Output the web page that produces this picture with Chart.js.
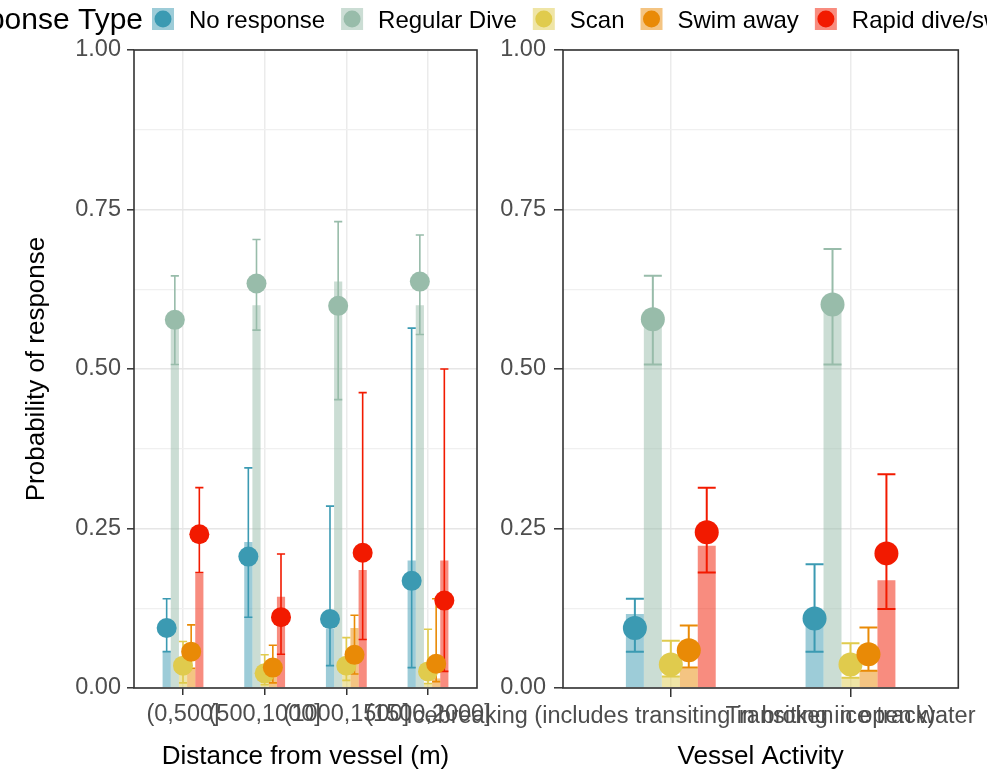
<!DOCTYPE html>
<html>
<head>
<meta charset="utf-8">
<script src="https://cdn.jsdelivr.net/npm/chart.js@4/dist/chart.umd.min.js"></script>
<style>
  html, body { margin: 0; padding: 0; background: #fff; }
  #wrap { position: relative; width: 987px; height: 774px; overflow: hidden; background: #fff; }
  #wrap canvas { position: absolute; left: 0; top: 0; }
</style>
</head>
<body>
<div id="wrap">
  <canvas id="distChart" width="987" height="774"></canvas>
  <canvas id="activityChart" width="987" height="774"></canvas>
</div>
<script>
// ---- Response categories and their colours ----
const legendTitle = 'Response Type';
const responseTypes = ['No response', 'Regular Dive', 'Scan', 'Swim away', 'Rapid dive/swim away'];
const pointColors = ['#3B9AB2', '#98BCAA', '#E0CB4D', '#E98A06', '#F21A00'];
const barAlpha = 0.5;

// ---- Y axis ----
const yMajorTicks = [0, 0.25, 0.5, 0.75, 1];
const yMinorGrid = [0.125, 0.375, 0.625, 0.875];

// ---- Panel 1: distance from vessel ----
const distanceLabels = ['(0,500]', '(500,1000]', '(1000,1500]', '(1500,2000]'];
// observed proportions (bars); one row per response type
const distObserved = [
  [0.057, 0.229, 0.093, 0.200],
  [0.570, 0.600, 0.637, 0.600],
  [0.022, 0.012, 0.020, 0.008],
  [0.030, 0.020, 0.094, 0.015],
  [0.180, 0.143, 0.185, 0.200]
];
// model estimates (points)
const distEstimate = [
  [0.094, 0.206, 0.108, 0.168],
  [0.577, 0.634, 0.599, 0.637],
  [0.035, 0.023, 0.035, 0.026],
  [0.057, 0.032, 0.052, 0.038],
  [0.241, 0.111, 0.212, 0.137]
];
const distLower = [
  [0.057, 0.111, 0.035, 0.032],
  [0.507, 0.561, 0.452, 0.554],
  [0.008, 0.005, 0.012, 0.007],
  [0.031, 0.008, 0.022, 0.010],
  [0.181, 0.053, 0.076, 0.026]
];
const distUpper = [
  [0.140, 0.345, 0.285, 0.564],
  [0.646, 0.703, 0.731, 0.710],
  [0.073, 0.052, 0.079, 0.092],
  [0.099, 0.067, 0.114, 0.140],
  [0.314, 0.210, 0.463, 0.500]
];

// ---- Panel 2: vessel activity ----
const activityLabels = ['Icebreaking (includes transiting in broken ice track)', 'Transiting in open water'];
const actObserved = [
  [0.116, 0.100],
  [0.570, 0.590],
  [0.018, 0.016],
  [0.031, 0.027],
  [0.223, 0.169]
];
const actEstimate = [
  [0.094, 0.109],
  [0.578, 0.601],
  [0.037, 0.037],
  [0.059, 0.053],
  [0.244, 0.211]
];
const actLower = [
  [0.057, 0.057],
  [0.507, 0.507],
  [0.018, 0.016],
  [0.032, 0.027],
  [0.181, 0.124]
];
const actUpper = [
  [0.140, 0.194],
  [0.646, 0.688],
  [0.074, 0.070],
  [0.098, 0.095],
  [0.314, 0.335]
];

// ---- helpers ----
function withAlpha(hex, a) {
  const n = parseInt(hex.slice(1), 16);
  return `rgba(${(n >> 16) & 255},${(n >> 8) & 255},${n & 255},${a})`;
}
const FONT = '"Liberation Sans", Arial, sans-serif';
const isMajor = v => yMajorTicks.some(t => Math.abs(t - v) < 1e-9);

// error bars + estimate points, placed on each bar's dodged position
const markLayer = {
  id: 'markLayer',
  afterDatasetsDraw(chart, args, opts) {
    const { ctx } = chart;
    const y = chart.scales.y;
    ctx.save();
    ctx.lineWidth = opts.lineWidth;
    opts.estimate.forEach((row, i) => {
      const meta = chart.getDatasetMeta(i);
      ctx.strokeStyle = pointColors[i];
      row.forEach((v, j) => {
        const bar = meta.data[j];
        const half = bar.width / 2;
        const yl = y.getPixelForValue(opts.lower[i][j]);
        const yu = y.getPixelForValue(opts.upper[i][j]);
        ctx.beginPath();
        ctx.moveTo(bar.x, yl); ctx.lineTo(bar.x, yu);
        ctx.moveTo(bar.x - half, yl); ctx.lineTo(bar.x + half, yl);
        ctx.moveTo(bar.x - half, yu); ctx.lineTo(bar.x + half, yu);
        ctx.stroke();
      });
    });
    opts.estimate.forEach((row, i) => {
      const meta = chart.getDatasetMeta(i);
      ctx.fillStyle = pointColors[i];
      row.forEach((v, j) => {
        const bar = meta.data[j];
        ctx.beginPath();
        ctx.arc(bar.x, y.getPixelForValue(v), opts.radius, 0, Math.PI * 2);
        ctx.fill();
      });
    });
    ctx.restore();
  },
  afterDraw(chart) {
    const { ctx, chartArea: a } = chart;
    ctx.save();
    ctx.strokeStyle = '#333333';
    ctx.lineWidth = 1.6;
    ctx.strokeRect(a.left, a.top, a.right - a.left, a.bottom - a.top);
    ctx.restore();
  }
};

// legend across the top of the figure
const legendBlock = {
  id: 'legendBlock',
  afterDraw(chart) {
    const ctx = chart.ctx;
    ctx.save();
    ctx.textBaseline = 'middle';
    const keySize = 22, keyY = 19, textY = 21;
    let x = 152;
    ctx.fillStyle = '#000';
    ctx.textAlign = 'right';
    ctx.font = '30px ' + FONT;
    ctx.fillText(legendTitle, x - 9, textY);
    ctx.textAlign = 'left';
    ctx.font = '24px ' + FONT;
    responseTypes.forEach((name, i) => {
      ctx.fillStyle = withAlpha(pointColors[i], barAlpha);
      ctx.fillRect(x, keyY - keySize / 2, keySize, keySize);
      ctx.fillStyle = pointColors[i];
      ctx.beginPath();
      ctx.arc(x + keySize / 2, keyY, 8.5, 0, Math.PI * 2);
      ctx.fill();
      ctx.fillStyle = '#000';
      ctx.fillText(name, x + keySize + 15, textY);
      x += keySize + 15 + ctx.measureText(name).width + 16;
    });
    ctx.restore();
  }
};

function makePanel(canvasId, cfg) {
  const datasets = responseTypes.map((name, i) => ({
    type: 'bar',
    label: name,
    data: cfg.observed[i].map((v, j) => ({ x: j + 1, y: v })),
    backgroundColor: withAlpha(pointColors[i], barAlpha),
    borderWidth: 0,
    categoryPercentage: 0.5,
    barPercentage: 1.0
  }));
  return new Chart(document.getElementById(canvasId), {
    type: 'bar',
    data: { datasets },
    plugins: cfg.plugins,
    options: {
      responsive: false,
      animation: false,
      devicePixelRatio: 1,
      layout: { padding: cfg.padding },
      plugins: {
        legend: { display: false },
        tooltip: { enabled: false },
        markLayer: {
          estimate: cfg.estimate, lower: cfg.lower, upper: cfg.upper,
          radius: cfg.radius, lineWidth: cfg.lineWidth
        }
      },
      scales: {
        x: {
          type: 'linear',
          min: 0.4,
          max: cfg.labels.length + 0.6,
          offset: false,
          afterBuildTicks: s => { s.ticks = cfg.labels.map((_, j) => ({ value: j + 1 })); },
          afterFit: s => { s.height = 86; },
          ticks: {
            callback: v => cfg.labels[Math.round(v) - 1],
            autoSkip: false, maxRotation: 0, minRotation: 0,
            color: '#4D4D4D', font: { family: FONT, size: 23.5 }, padding: 5
          },
          grid: {
            offset: false,
            color: '#EBEBEB', lineWidth: 1.5,
            tickLength: cfg.tickLength, tickColor: '#333333', tickWidth: 1.5
          },
          border: { display: false },
          title: {
            display: true, text: cfg.xTitle, color: '#000',
            font: { family: FONT, size: 26 }, padding: { top: 2, bottom: 2 }
          }
        },
        y: {
          type: 'linear',
          min: 0, max: 1,
          afterBuildTicks: s => { s.ticks = yMajorTicks.concat(yMinorGrid).sort((a, b) => a - b).map(v => ({ value: v })); },
          afterFit: s => { s.width = cfg.yWidth; },
          ticks: {
            callback: v => isMajor(v) ? v.toFixed(2) : '',
            color: '#4D4D4D', font: { family: FONT, size: 23.5 }, padding: cfg.yLabelPad
          },
          grid: {
            color: c => isMajor(c.tick.value) ? '#E6E6E6' : '#F0F0F0',
            lineWidth: c => isMajor(c.tick.value) ? 1.6 : 1.2,
            tickLength: cfg.tickLength,
            tickColor: c => isMajor(c.tick.value) ? '#333333' : 'rgba(0,0,0,0)',
            tickWidth: 1.5
          },
          border: { display: false },
          title: {
            display: !!cfg.yTitle, text: cfg.yTitle || '', color: '#000',
            font: { family: FONT, size: 26 }, padding: { top: 21, bottom: 0 }
          }
        }
      }
    }
  });
}

makePanel('distChart', {
  labels: distanceLabels,
  observed: distObserved, estimate: distEstimate, lower: distLower, upper: distUpper,
  xTitle: 'Distance from vessel (m)', yTitle: 'Probability of response',
  padding: { left: 0, top: 50, right: 510, bottom: 0 },
  yWidth: 134, yLabelPad: 6, tickLength: 7,
  radius: 10, lineWidth: 1.6,
  plugins: [markLayer, legendBlock]
});

makePanel('activityChart', {
  labels: activityLabels,
  observed: actObserved, estimate: actEstimate, lower: actLower, upper: actUpper,
  xTitle: 'Vessel Activity', yTitle: '',
  padding: { left: 477, top: 50, right: 24, bottom: 0 },
  yWidth: 86, yLabelPad: 8, tickLength: 9,
  radius: 12, lineWidth: 2,
  plugins: [markLayer]
});
</script>
</body>
</html>
